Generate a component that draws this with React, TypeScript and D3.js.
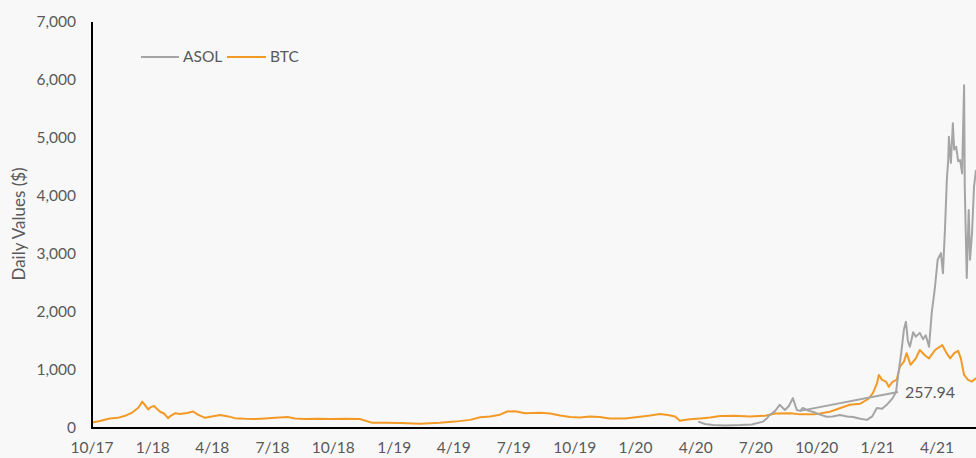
import React from 'react';
import * as d3 from 'd3';

const btcDates = [
  '2017-10-01','2017-10-13','2017-10-28','2017-11-09','2017-11-20','2017-11-30','2017-12-10','2017-12-16','2017-12-20','2017-12-25','2017-12-29',
  '2018-01-03','2018-01-07','2018-01-12','2018-01-18','2018-01-24','2018-01-28','2018-02-04','2018-02-11','2018-02-22','2018-03-03','2018-03-10','2018-03-21','2018-03-31',
  '2018-04-13','2018-04-25','2018-05-05','2018-05-20','2018-06-05','2018-06-20','2018-07-05','2018-07-24','2018-08-04','2018-08-19','2018-09-08','2018-09-26',
  '2018-10-19','2018-11-10','2018-11-28','2018-12-18','2019-01-10','2019-02-09','2019-03-11','2019-04-03','2019-04-26','2019-05-11','2019-05-26','2019-06-10','2019-06-21',
  '2019-07-03','2019-07-18','2019-08-10','2019-08-25','2019-09-09','2019-09-24','2019-10-09','2019-10-24','2019-11-08','2019-11-23','2019-12-16',
  '2020-01-08','2020-01-23','2020-02-07','2020-02-19','2020-03-01','2020-03-08','2020-03-23','2020-04-08','2020-04-23','2020-05-08','2020-05-30','2020-06-22',
  '2020-07-15','2020-07-30','2020-08-22','2020-09-06','2020-09-28','2020-10-21','2020-11-05','2020-11-20','2020-12-06','2020-12-18','2020-12-25','2020-12-31',
  '2021-01-03','2021-01-08','2021-01-14','2021-01-18','2021-01-24','2021-01-30','2021-02-04','2021-02-10','2021-02-14','2021-02-20','2021-02-28',
  '2021-03-06','2021-03-14','2021-03-20','2021-03-29','2021-04-09','2021-04-15','2021-04-21','2021-04-27','2021-05-03','2021-05-07','2021-05-12','2021-05-18','2021-05-24','2021-05-30'
];
const btcValues = [
  95,120,165,175,210,260,350,455,400,320,360,
  380,330,280,250,170,210,255,240,260,285,230,175,200,
  225,200,170,160,155,165,175,190,165,155,160,155,
  160,155,92,90,85,75,90,110,140,185,200,230,285,
  290,255,265,250,215,190,180,200,190,165,165,
  195,215,240,225,200,125,150,165,180,205,210,200,
  210,250,255,235,235,280,340,400,420,500,600,760,
  915,830,800,710,800,830,1060,1145,1290,1090,1200,
  1345,1250,1200,1345,1430,1300,1200,1290,1330,1200,915,830,800,860
];

const asolDates = [
  '2020-04-05','2020-04-15','2020-04-27','2020-05-15','2020-06-07','2020-06-25','2020-07-12','2020-07-18','2020-07-22','2020-07-30',
  '2020-08-06','2020-08-14','2020-08-20','2020-08-26','2020-09-01','2020-09-06','2020-09-10','2020-09-18','2020-09-25','2020-10-06',
  '2020-10-16','2020-10-25','2020-11-05','2020-11-16','2020-11-25','2020-12-06','2020-12-16','2020-12-24','2020-12-31',
  '2021-01-08','2021-01-15','2021-01-24','2021-01-29','2021-02-01','2021-02-06','2021-02-10','2021-02-13','2021-02-16','2021-02-19','2021-02-24','2021-02-28',
  '2021-03-06','2021-03-11','2021-03-15','2021-03-20','2021-03-24','2021-03-29','2021-04-02','2021-04-07','2021-04-10','2021-04-13','2021-04-16','2021-04-18','2021-04-19',
  '2021-04-22','2021-04-25','2021-04-27','2021-04-30','2021-05-03','2021-05-06','2021-05-09','2021-05-10','2021-05-12','2021-05-13','2021-05-16','2021-05-19','2021-05-21','2021-05-24','2021-05-27','2021-05-30'
];
const asolValues = [
  110,70,50,45,50,60,110,170,225,290,
  400,310,380,515,310,295,345,300,280,230,
  195,200,225,200,190,160,140,200,345,
  330,400,515,620,885,1300,1700,1830,1500,1400,1650,1575,
  1640,1530,1600,1400,1980,2435,2900,3015,2670,3410,4300,4620,5020,
  4570,5255,4800,4850,4600,4620,4390,4900,5910,4160,2585,3760,2900,3360,4160,4450
];

// Stray connector with its data label
const labelFromDate = '2020-09-06';
const labelFromValue = 295;
const labelDate = '2021-02-01';
const labelValue = 620;
const labelText = '257.94';

const yTicks = [0, 1000, 2000, 3000, 4000, 5000, 6000, 7000];
const xTickDates = ['2017-10-01','2018-01-01','2018-04-01','2018-07-01','2018-10-01','2019-01-01','2019-04-01','2019-07-01','2019-10-01','2020-01-01','2020-04-01','2020-07-01','2020-10-01','2021-01-01','2021-04-01'];
const xTickLabels = ['10/17','1/18','4/18','7/18','10/18','1/19','4/19','7/19','10/19','1/20','4/20','7/20','10/20','1/21','4/21'];

const W = 976, H = 458;
const left = 92, right = 976, top = 22, bottom = 428;
const GRAY = '#A5A5A5';
const ORANGE = '#F39A26';
const TEXT = '#595959';
const FONT = 'Lato, "Open Sans", sans-serif';

export default function App() {
  const parse = (s: string) => new Date(s + 'T00:00:00Z');
  const x = d3.scaleUtc().domain([parse('2017-10-01'), parse('2021-05-30')]).range([left, right]);
  const y = d3.scaleLinear().domain([0, 7000]).range([bottom, top]);
  const line = d3.line<[Date, number]>().x(d => x(d[0])).y(d => y(d[1]));
  const btc: [Date, number][] = btcDates.map((d, i) => [parse(d), btcValues[i]]);
  const asol: [Date, number][] = asolDates.map((d, i) => [parse(d), asolValues[i]]);
  const connector: [Date, number][] = [[parse(labelFromDate), labelFromValue], [parse(labelDate), labelValue]];

  return (
    <svg width={W} height={H} style={{ position: 'fixed', left: 0, top: 0 }} fontFamily={FONT}>
      <rect x={0} y={0} width={W} height={H} fill="#F8F8F8" />
      <defs>
        <clipPath id="plot"><rect x={left} y={0} width={right - left} height={bottom} /></clipPath>
      </defs>
      {yTicks.map(t => (
        <text key={t} x={76} y={y(t)} dy="0.35em" textAnchor="end" fontSize={15.5} fill={TEXT}>{d3.format(',')(t)}</text>
      ))}
      {xTickDates.map((d, i) => (
        <text key={d} x={x(parse(d))} y={453} textAnchor="middle" fontSize={15.5} fill={TEXT}>{xTickLabels[i]}</text>
      ))}
      <text transform={`translate(25,224) rotate(-90)`} textAnchor="middle" fontSize={17} fill={TEXT}>Daily Values ($)</text>
      <g clipPath="url(#plot)">
        <path d={line(btc) || ''} fill="none" stroke={ORANGE} strokeWidth={2} strokeLinejoin="round" />
        <path d={line(asol) || ''} fill="none" stroke={GRAY} strokeWidth={2} strokeLinejoin="round" />
        <path d={line(connector) || ''} fill="none" stroke={GRAY} strokeWidth={2} />
      </g>
      <text x={x(parse(labelDate)) + 7} y={y(labelValue)} dy="0.35em" fontSize={16} fill={TEXT}>{labelText}</text>
      <line x1={left} x2={left} y1={top} y2={bottom + 1} stroke="#000" strokeWidth={2} />
      <line x1={left - 1} x2={right} y1={bottom} y2={bottom} stroke="#000" strokeWidth={2} />
      <g>
        <line x1={141} x2={179} y1={57} y2={57} stroke={GRAY} strokeWidth={2} />
        <text x={183} y={57} dy="0.35em" fontSize={15.5} fill={TEXT}>ASOL</text>
        <line x1={227} x2={266} y1={57} y2={57} stroke={ORANGE} strokeWidth={2} />
        <text x={270} y={57} dy="0.35em" fontSize={15.5} fill={TEXT}>BTC</text>
      </g>
    </svg>
  );
}
